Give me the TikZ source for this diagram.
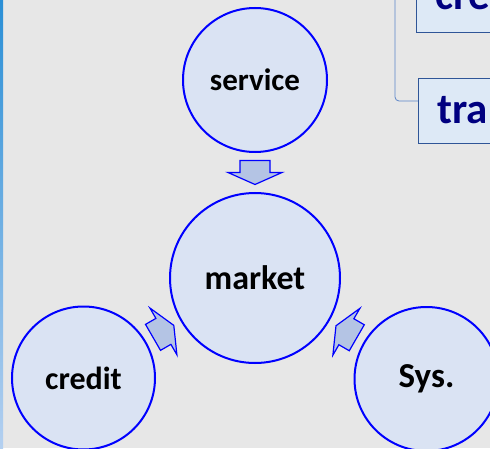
\documentclass[tikz,border=0pt]{standalone}
\usepackage{fontspec}
\setmainfont{Carlito}
\usetikzlibrary{calc}
\definecolor{bgGray}{HTML}{E7E7E7}
\definecolor{stripTop}{HTML}{2A8FD6}
\definecolor{stripBot}{HTML}{B4D0F0}
\definecolor{ringBlue}{HTML}{0000FF}
\definecolor{bubbleFill}{HTML}{DAE3F3}
\definecolor{arrowFill}{HTML}{B4C4E4}
\definecolor{boxFill}{HTML}{DDE9F6}
\definecolor{boxLine}{HTML}{2F5597}
\definecolor{railBlue}{HTML}{5B84C8}
\definecolor{boxText}{HTML}{000080}
\tikzset{
  bubble/.style={circle,draw=ringBlue,line width=2pt,fill=bubbleFill,inner sep=0pt},
  flowarrow/.pic={
    \filldraw[draw=ringBlue,line width=1.2pt,fill=arrowFill,line join=miter]
      (-12,-15) -- (0,-15) -- (0,-27) -- (12,0) -- (0,27) -- (0,15) -- (-12,15) -- cycle;
  },
  topicbox/.style={draw=boxLine,line width=0.8pt,fill=boxFill,anchor=west,minimum height=65pt,
    text width=103pt,inner xsep=19pt,align=left,text=boxText,
    font=\bfseries\fontsize{43}{43}\selectfont},
  rail/.style={draw=railBlue,line width=0.8pt,rounded corners=4pt}
}
\begin{document}
\begin{tikzpicture}[x=1pt,y=1pt]
	\useasboundingbox (0,0) rectangle (490,448);
	\clip (0,0) rectangle (490,448);
	\fill[bgGray] (0,0) rectangle (490,448);
	\shade[top color=stripTop,bottom color=stripBot] (0,0) rectangle (3,448);
	% side boxes, cut by the page edge
	\node[topicbox] (cre) at (416,448.5) {cre};
	\node[topicbox] (tra) at (418,337.5) {tra};
	\coordinate (railtop) at (395,470);
	\draw[rail] (railtop) |- ($(tra.west)+(0,9.5)$);
	% circles
	\node[bubble,minimum size=144pt,font=\bfseries\fontsize{31}{31}\selectfont] (service) at (255,368) {service};
	\node[bubble,minimum size=170pt,font=\bfseries\fontsize{34}{34}\selectfont] (market) at (255,170) {market};
	\node[bubble,minimum size=143pt,font=\bfseries\fontsize{32}{32}\selectfont] (credit) at (83.5,70) {credit};
	\node[bubble,minimum size=144pt,font=\bfseries\fontsize{35}{35}\selectfont] (sys) at (426.5,69) {Sys.};
	% block arrows into market
	\pic[rotate=-90] at ($(service.south)!0.5!(market.north)$) {flowarrow};
	\pic[rotate=30] at ($(credit.30)!0.5!(market.210)$) {flowarrow};
	\pic[rotate=150] at ($(sys.150)!0.5!(market.330)$) {flowarrow};
\end{tikzpicture}
\end{document}
